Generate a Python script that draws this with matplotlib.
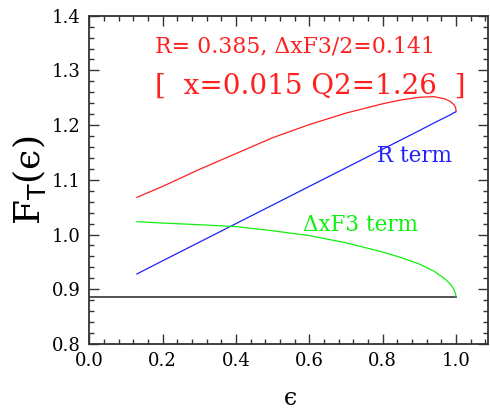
import numpy as np
import matplotlib
matplotlib.use("Agg")
import matplotlib.pyplot as plt
from matplotlib.ticker import MultipleLocator

# values
eps = [0.13, 0.2, 0.3, 0.4, 0.5, 0.6, 0.7, 0.8, 0.85, 0.9, 0.94, 0.97, 0.985, 0.995, 0.999, 1.0]
total = [1.068, 1.088, 1.119, 1.148, 1.177, 1.201, 1.222, 1.239, 1.246, 1.251, 1.252, 1.248,
         1.243, 1.237, 1.232, 1.226]
r_term = [0.928, 0.952, 0.986, 1.020, 1.054, 1.088, 1.122, 1.156, 1.173, 1.190, 1.204, 1.214,
          1.219, 1.223, 1.224, 1.2245]
f3_term = [1.0235, 1.021, 1.018, 1.0145, 1.007, 0.998, 0.985, 0.968, 0.958, 0.946, 0.933, 0.919,
           0.909, 0.899, 0.891, 0.887]
base_x = [0.0, 1.0]
base_y = [0.885, 0.885]

plt.rcParams['font.family'] = ['DejaVu Serif']

fig = plt.figure(figsize=(4.9, 4.09), dpi=100)
ax = fig.add_axes([0.1822, 0.159, 0.8135, 0.8026])

ax.plot(base_x, base_y, color='#444444', lw=1.3)
ax.plot(eps, total, color='#ff2020', lw=0.9)
ax.plot(eps, r_term, color='#2020ff', lw=0.9)
ax.plot(eps, f3_term, color='#10f010', lw=0.9)

ax.text(0.18, 1.333, 'R= 0.385, ΔxF3/2=0.141', color='#ff2020', fontsize=15.8)
ax.text(0.178, 1.257, '[  x=0.015 Q2=1.26  ]', color='#ff2020', fontsize=20)
ax.text(0.785, 1.133, 'R term', color='#2020ff', fontsize=15.5)
ax.text(0.583, 1.006, 'ΔxF3 term', color='#10f010', fontsize=15.5)

ax.set_xlim(0, 1.087)
ax.set_ylim(0.8, 1.4)
ax.xaxis.set_major_locator(MultipleLocator(0.2))
ax.xaxis.set_minor_locator(MultipleLocator(0.04))
ax.yaxis.set_major_locator(MultipleLocator(0.1))
ax.yaxis.set_minor_locator(MultipleLocator(0.02))
ax.xaxis.set_major_formatter(plt.FormatStrFormatter('%.1f'))
ax.yaxis.set_major_formatter(plt.FormatStrFormatter('%.1f'))
ax.tick_params(which='both', direction='in', top=True, right=True, color='#333333', width=1.0)
ax.tick_params(which='major', length=7, labelsize=13, pad=6)
ax.tick_params(which='minor', length=3.5)
for s in ax.spines.values():
    s.set_color('#333333')
    s.set_linewidth(1.3)

ax.set_xlabel('\u03f5', fontsize=17)
ax.xaxis.set_label_coords(0.505, -0.13)
ax.set_ylabel('F$_{\\mathrm{T}}$(\u03f5)', fontsize=26, labelpad=3)

fig.savefig('out.png', dpi=100)
